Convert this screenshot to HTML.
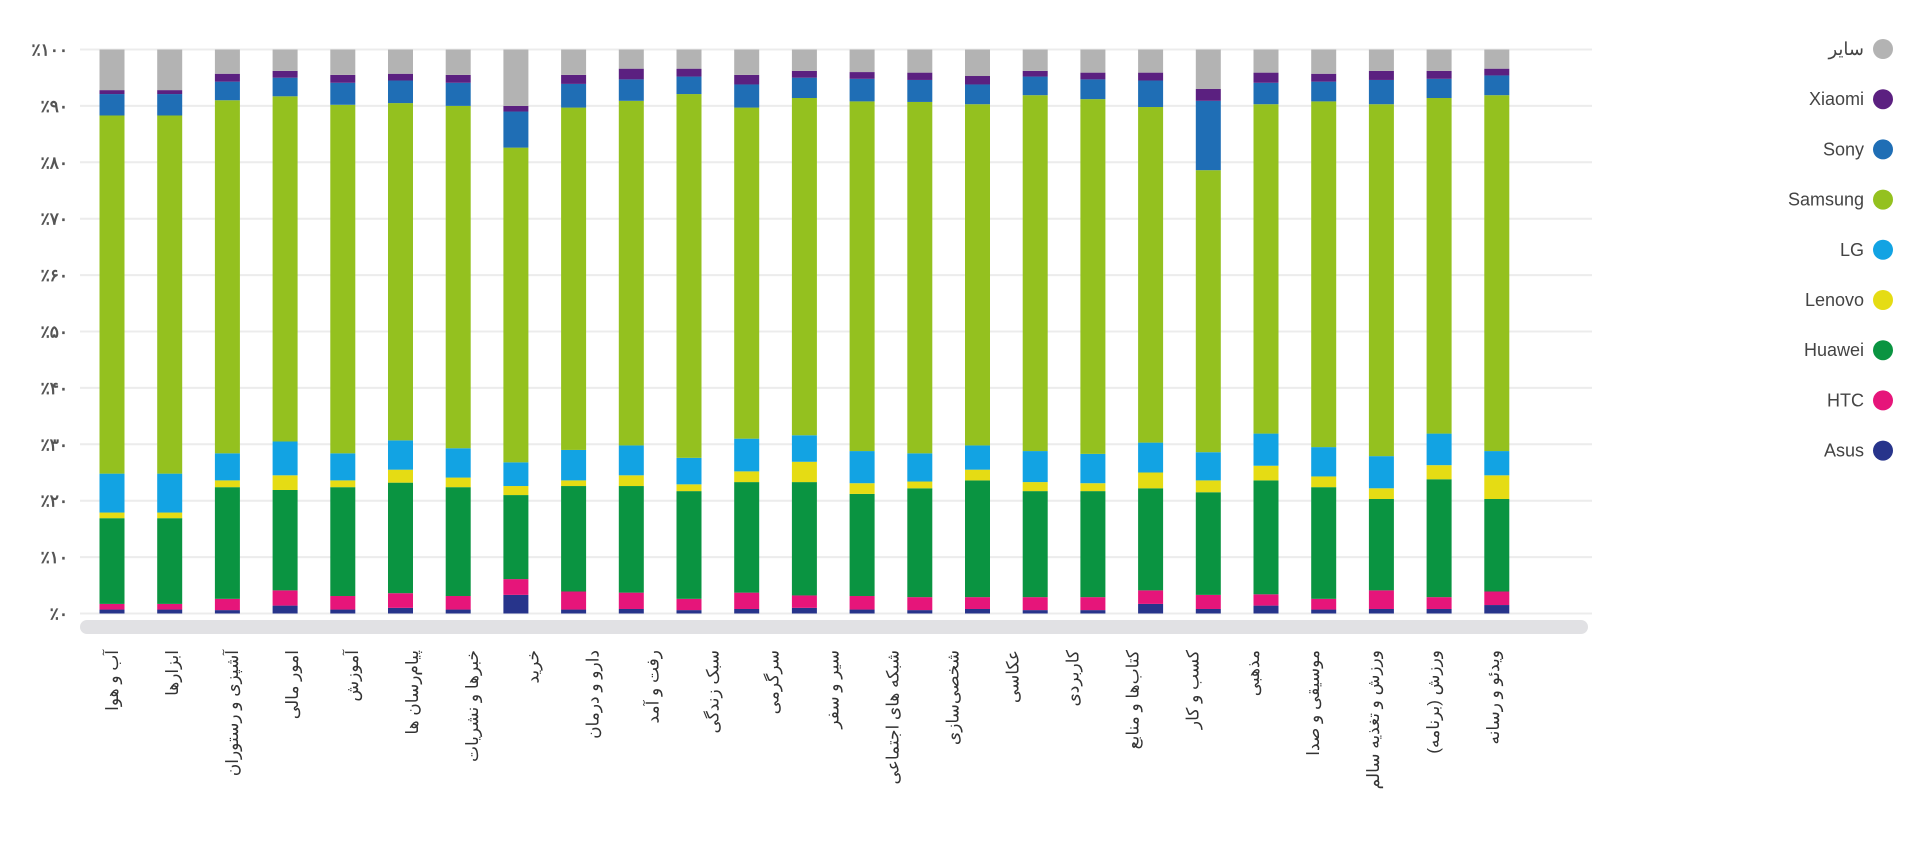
<!DOCTYPE html>
<html><head><meta charset="utf-8">
<style>
html,body{margin:0;padding:0;background:#fff;}
svg{display:block;}
text{font-family:"Liberation Sans","Noto Sans CJK SC",sans-serif;}
</style></head>
<body>
<svg id="chart" width="1920" height="842" viewBox="0 0 1920 842" xmlns="http://www.w3.org/2000/svg">
<g id="grid"></g>
<g id="yaxis"></g>
<rect x="80" y="620" width="1508" height="14" rx="7" fill="#e1e1e4"/>
<g id="bars"></g>
<g id="xaxis"></g>
<g id="legend"></g>
</svg>
<script>
const categories = ["آب و هوا","ابزارها","آشپزی و رستوران","امور مالی","آموزش","پیام‌رسان ها","خبرها و نشریات","خرید","دارو و درمان","رفت و آمد","سبک زندگی","سرگرمی","سیر و سفر","شبکه های اجتماعی","شخصی‌سازی","عکاسی","کاربردی","کتاب‌ها و منابع","کسب و کار","مذهبی","موسیقی و صدا","ورزش و تغذیه سالم","ورزش (برنامه)","ویدئو و رسانه"];
const barCount = 25;
const asus    = [0.7,0.7,0.6,1.4,0.7,1.0,0.7,3.3,0.7,0.8,0.6,0.8,1.0,0.7,0.6,0.8,0.6,0.6,1.7,0.8,1.4,0.7,0.8,0.8,1.5];
const htc     = [1.0,1.0,2.0,2.7,2.4,2.6,2.4,2.8,3.2,2.9,2.0,2.9,2.2,2.4,2.3,2.1,2.3,2.3,2.4,2.5,2.0,1.9,3.3,2.1,2.4];
const huawei  = [15.2,15.2,19.8,17.8,19.3,19.6,19.3,14.9,18.7,18.9,19.1,19.6,20.1,18.1,19.3,20.7,18.8,18.8,18.1,18.2,20.2,19.8,16.2,20.9,16.4];
const lenovo  = [1.0,1.0,1.2,2.6,1.2,2.3,1.7,1.6,1.0,1.9,1.2,1.9,3.6,1.9,1.2,1.9,1.6,1.4,2.8,2.1,2.6,1.9,1.9,2.5,4.2];
const lg      = [6.9,6.9,4.8,6.0,4.8,5.2,5.2,4.2,5.4,5.3,4.7,5.8,4.7,5.7,5.0,4.3,5.5,5.2,5.3,5.0,5.7,5.2,5.7,5.6,4.3];
const samsung = [63.5,63.5,62.6,61.2,61.8,59.8,60.7,55.8,60.7,61.1,64.5,58.7,59.8,62.0,62.3,60.5,63.1,62.9,59.5,50.0,58.4,61.3,62.4,59.5,63.1];
const sony    = [3.8,3.8,3.3,3.3,3.9,4.0,4.1,6.4,4.2,3.8,3.1,4.1,3.6,4.0,3.9,3.5,3.3,3.5,4.7,12.3,3.8,3.5,4.3,3.4,3.5];
const xiaomi  = [0.7,0.7,1.4,1.2,1.4,1.2,1.4,1.0,1.6,1.9,1.4,1.7,1.2,1.2,1.3,1.5,1.0,1.2,1.4,2.1,1.8,1.4,1.6,1.4,1.2];
const other   = [7.2,7.2,4.3,3.8,4.5,4.3,4.5,10.0,4.5,3.4,3.4,4.5,3.8,4.0,4.1,4.7,3.8,4.1,4.1,7.0,4.1,4.3,3.8,3.8,3.4];
const yTicks = [0,10,20,30,40,50,60,70,80,90,100];
const yTickLabels = ["٪۰","٪۱۰","٪۲۰","٪۳۰","٪۴۰","٪۵۰","٪۶۰","٪۷۰","٪۸۰","٪۹۰","٪۱۰۰"];
const seriesNames = ["Asus","HTC","Huawei","Lenovo","LG","Samsung","Sony","Xiaomi","سایر"];

const series = [asus,htc,huawei,lenovo,lg,samsung,sony,xiaomi,other];
const colors = ["#27348b","#e6157a","#0a9441","#e5dc14","#12a3e3","#94c11f","#1f6eb5","#5b2080","#b3b3b3"];
const NS = "http://www.w3.org/2000/svg";
const y0 = 613.5, y100 = 49.5;
function yScale(v){ return y0 - (y0 - y100) * v / 100; }
function xScale(i){ return 112 + i * 57.7; }
function labelX(i){ return 112 + i * 60.04; }
function mk(tag, attrs, parent){ const e=document.createElementNS(NS,tag); for(const k in attrs) e.setAttribute(k, attrs[k]); parent.appendChild(e); return e; }

const grid = document.getElementById('grid');
const yaxis = document.getElementById('yaxis');
yTicks.forEach((t,i)=>{
  const l = mk('line',{x1:80,x2:1592,y1:yScale(t),y2:yScale(t),stroke:'#ececec','stroke-width':2},grid);
  
  
  const tx = mk('text',{x:68,y:yScale(t)+6,'text-anchor':'end','font-size':17,'font-weight':'bold',fill:'#555',direction:'ltr'},yaxis);
  tx.textContent = yTickLabels[i];
  
  
});

const bars = document.getElementById('bars');
for(let i=0;i<barCount;i++){
  let acc = 0;
  const g = mk('g',{},bars);
  
  
  series.forEach((s,k)=>{
    const v = s[i];
    const top = yScale(acc + v), bot = yScale(acc);
    const r = mk('rect',{x:xScale(i)-12.5,y:top,width:25,height:Math.max(0,bot-top),fill:colors[k]},g);
    
    
    acc += v;
  });
}

const xaxis = document.getElementById('xaxis');
categories.forEach((c,i)=>{
  const x = labelX(i)+6, y = 650;
  const t = mk('text',{x:x,y:y,transform:`rotate(-90 ${x} ${y})`,'text-anchor':'end','font-size':17,fill:'#333',direction:'ltr'},xaxis);
  t.textContent = c;
  
  
});

const legend = document.getElementById('legend');
const legendOrder = [8,7,6,5,4,3,2,1,0];
legendOrder.forEach((k,j)=>{
  const cy = 49 + j*50.2;
  const g = mk('g',{},legend);
  
  
  const c = mk('circle',{cx:1883,cy:cy,r:10,fill:colors[k]},g);
  
  
  const t = mk('text',{x:1864,y:cy+6,'text-anchor':'end','font-size':18,fill:'#444',direction:'ltr'},g);
  t.textContent = seriesNames[k];
  
  
});
</script>
</body></html>
